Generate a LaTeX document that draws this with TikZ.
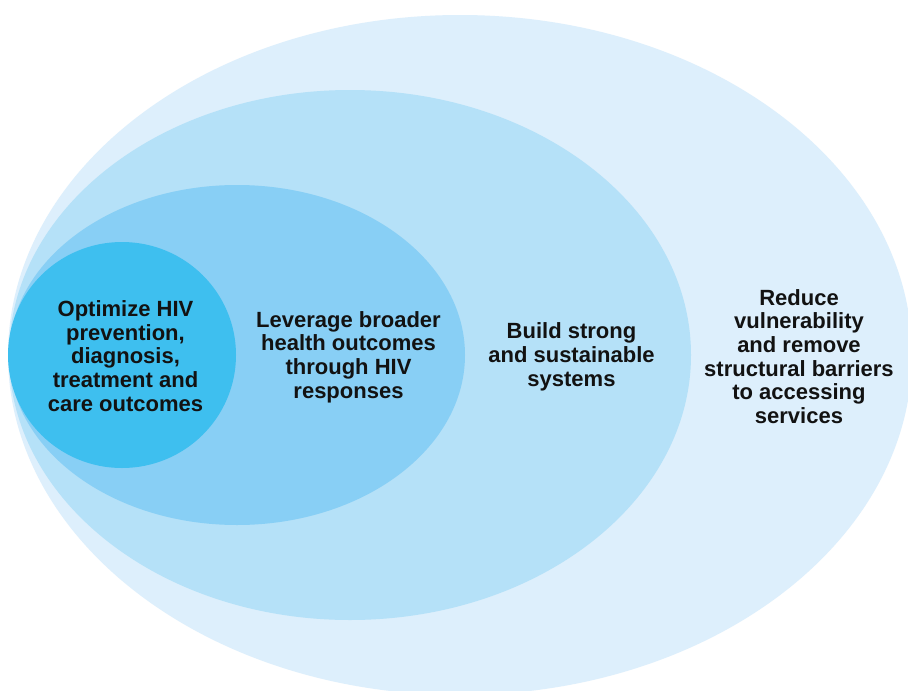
\documentclass[tikz,border=0pt]{standalone}
\usepackage{fontspec}
\setmainfont{Liberation Sans}
\definecolor{ringA}{HTML}{DDEFFC}
\definecolor{ringB}{HTML}{B5E1F8}
\definecolor{ringC}{HTML}{88CFF5}
\definecolor{ringD}{HTML}{3EBFEF}
\definecolor{txt}{HTML}{121212}
\begin{document}
\begin{tikzpicture}[x=1pt,y=-1pt,
  lbl/.style={align=center,inner sep=0pt,text=txt,font=\bfseries\fontsize{22}{23.7}\selectfont}]
\useasboundingbox (0,0) rectangle (908,691);
\clip (0,0) rectangle (908,691);
\fill[white] (0,0) rectangle (908,691);
\fill[ringA] (460,355) ellipse [x radius=452, y radius=340];
\fill[ringB] (350,355) ellipse [x radius=341, y radius=265];
\fill[ringC] (237,355) ellipse [x radius=228, y radius=170];
\fill[ringD] (122,355) ellipse [x radius=114, y radius=113];
\node[lbl] (core) at (125.5,356) {Optimize HIV\\prevention,\\diagnosis,\\treatment and\\care outcomes};
\node[lbl] (health) at (348.5,357) {Leverage broader\\health outcomes\\through HIV\\responses};
\node[lbl] (systems) at (571.5,357) {Build strong\\and sustainable\\systems};
\node[lbl] (barriers) at (799,356.5) {Reduce\\vulnerability\\and remove\\structural barriers\\to accessing\\services};
\end{tikzpicture}
\end{document}
